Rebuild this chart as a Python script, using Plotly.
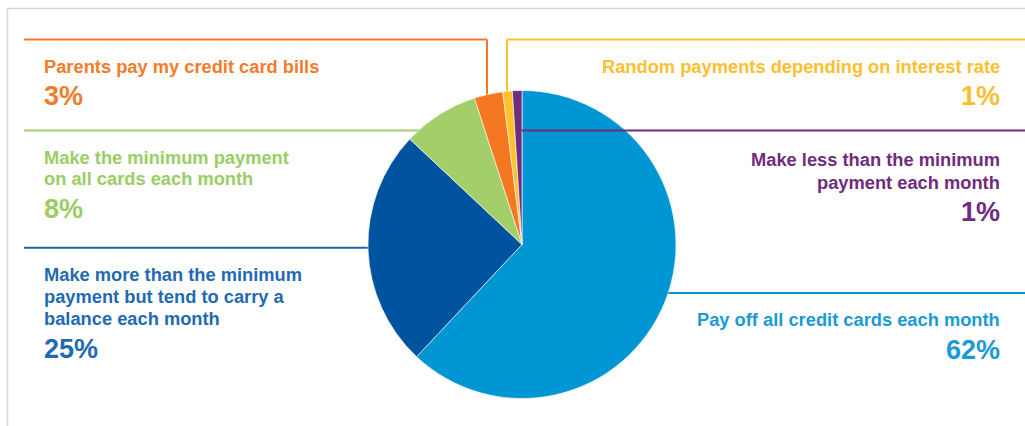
import plotly.graph_objects as go

# ---- data ----
labels = [
    "Pay off all credit cards each month",
    "Make more than the minimum payment but tend to carry a balance each month",
    "Make the minimum payment on all cards each month",
    "Parents pay my credit card bills",
    "Random payments depending on interest rate",
    "Make less than the minimum payment each month",
]
values = [62, 25, 8, 3, 1, 1]
slice_colors = ["#0096D3", "#00549F", "#A2CF6A", "#F47722", "#FFC328", "#702C7D"]
text_colors = ["#1B9AD6", "#1F6AB3", "#9ACD63", "#F37B2A", "#FDBE32", "#6E2C7E"]
label_lines = [
    ["Pay off all credit cards each month"],
    ["Make more than the minimum", "payment but tend to carry a", "balance each month"],
    ["Make the minimum payment", "on all cards each month"],
    ["Parents pay my credit card bills"],
    ["Random payments depending on interest rate"],
    ["Make less than the minimum", "payment each month"],
]

W, H = 1025, 426
FONT = "Liberation Sans, Arial, sans-serif"

# pie geometry (pixels)
cx, cy, r = 522, 244.5, 154

fig = go.Figure()
fig.add_trace(go.Pie(
    labels=labels, values=values, sort=False, direction="clockwise", rotation=0,
    marker=dict(colors=slice_colors, line=dict(color="white", width=0.6)),
    textinfo="none", hoverinfo="skip", showlegend=False,
    domain=dict(x=[(cx - r) / W, (cx + r) / W], y=[(H - cy - r) / H, (H - cy + r) / H]),
))

# label layout: (index, side, line baselines, pct baseline)
layout_spec = [
    (0, "right", [325], 358),
    (1, "left", [280, 301.7, 324], 357.3),
    (2, "left", [162.3, 184], 217.3),
    (3, "left", [71.3], 104),
    (4, "right", [71.3], 104),
    (5, "right", [165, 187.3], 220),
]

annotations = []
LX, RX = 43, 1001
for idx, side, baselines, pbase in layout_spec:
    x = LX if side == "left" else RX
    xanchor = "left" if side == "left" else "right"
    for line, b in zip(label_lines[idx], baselines):
        annotations.append(dict(
            x=x, y=b - 0.35 * 18 + 1, xref="x", yref="y", text=line, showarrow=False,
            xanchor=xanchor, yanchor="middle", borderpad=0,
            font=dict(family=FONT, size=18.3, color=text_colors[idx], weight="bold"),
        ))
    annotations.append(dict(
        x=x, y=pbase - 0.35 * 27 + 1, xref="x", yref="y", text=f"{values[idx]}%", showarrow=False,
        xanchor=xanchor, yanchor="middle", borderpad=0,
        font=dict(family=FONT, size=27, color=text_colors[idx], weight="bold"),
    ))

def seg(x0, y0, x1, y1, color, layer="below", width=2):
    return dict(type="line", x0=x0, y0=y0, x1=x1, y1=y1, xref="x", yref="y",
                line=dict(color=color, width=width), layer=layer)

shapes = [
    # frame
    seg(7, 8.5, W, 8.5, "#D9D9D9", width=1.5),
    seg(7.5, 8, 7.5, H, "#D9D9D9", width=1.5),
    # orange
    seg(24, 39.5, 487, 39.5, slice_colors[3]),
    seg(487, 39.5, 487, 120, slice_colors[3]),
    # yellow
    seg(507, 39.5, W, 39.5, slice_colors[4]),
    seg(507, 39.5, 507, 120, slice_colors[4]),
    # green
    seg(24, 130.5, 440, 130.5, slice_colors[2]),
    # purple (on top of the pie)
    seg(521.5, 130.5, W, 130.5, slice_colors[5], layer="above"),
    # dark blue
    seg(24, 247.7, 400, 247.7, "#1F63AE"),
    # light blue
    seg(640, 293, W, 293, slice_colors[0]),
]

fig.update_layout(
    width=W, height=H, margin=dict(l=0, r=0, t=0, b=0),
    paper_bgcolor="white", plot_bgcolor="rgba(0,0,0,0)",
    xaxis=dict(range=[0, W], visible=False, fixedrange=True),
    yaxis=dict(range=[H, 0], visible=False, fixedrange=True),
    annotations=annotations, shapes=shapes, showlegend=False,
)
fig.write_html(
    "out.html",
    config={"displayModeBar": False},
    post_script="document.body.style.margin='0';document.body.style.overflow='hidden';",
)
